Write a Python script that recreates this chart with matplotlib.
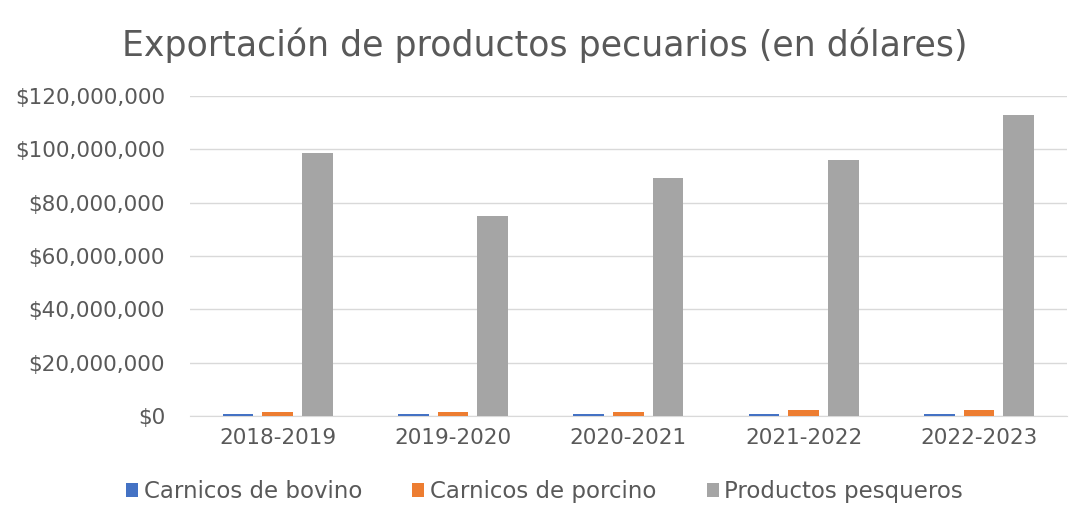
import numpy as np
import matplotlib.pyplot as plt
from matplotlib.ticker import FuncFormatter

years = ["2018-2019", "2019-2020", "2020-2021", "2021-2022", "2022-2023"]
bovino = [0.9e6, 0.9e6, 0.9e6, 0.9e6, 0.9e6]
porcino = [1.5e6, 1.5e6, 1.5e6, 2.1e6, 2.1e6]
pesqueros = [98.6e6, 75.0e6, 89.2e6, 96.0e6, 112.9e6]

series = [("Carnicos de bovino", bovino, "#4472C4"),
          ("Carnicos de porcino", porcino, "#ED7D31"),
          ("Productos pesqueros", pesqueros, "#A5A5A5")]

txt = "#595959"
fig = plt.figure(figsize=(10.89, 5.19), dpi=100)
ax = fig.add_axes([0.1745, 0.1985, 0.805, 0.6166])

x = np.arange(len(years))
w = 0.175
step = 0.226
for i, (name, vals, col) in enumerate(series):
    ax.bar(x + (i - 1) * step, vals, w, color=col, label=name, zorder=3)

ax.set_ylim(0, 120e6)
ax.set_yticks(np.arange(0, 120e6 + 1, 20e6))
ax.yaxis.set_major_formatter(FuncFormatter(lambda v, p: "$0" if v == 0 else f"${v:,.0f}"))
ax.set_xlim(-0.5, len(years) - 0.5)
ax.set_xticks(x)
ax.set_xticklabels(years)
ax.grid(axis="y", color="#d9d9d9", linewidth=1, zorder=0)
for s in ["top", "right", "left"]:
    ax.spines[s].set_visible(False)
ax.spines["bottom"].set_color("#d9d9d9")
ax.tick_params(axis="x", length=0, labelsize=15.5, colors=txt, pad=9)
ax.tick_params(axis="y", length=0, labelsize=15.5, colors=txt, pad=18)

fig.text(0.5, 0.912, "Exportación de productos pecuarios (en dólares)",
         ha="center", va="center", fontsize=25, color=txt)
fig.legend(loc="center", bbox_to_anchor=(0.5, 0.053), ncol=3, frameon=False,
           fontsize=16.5, labelcolor=txt, handlelength=0.52, handleheight=0.52,
           handletextpad=0.25, columnspacing=2.2)

fig.savefig("out.png", dpi=100)
